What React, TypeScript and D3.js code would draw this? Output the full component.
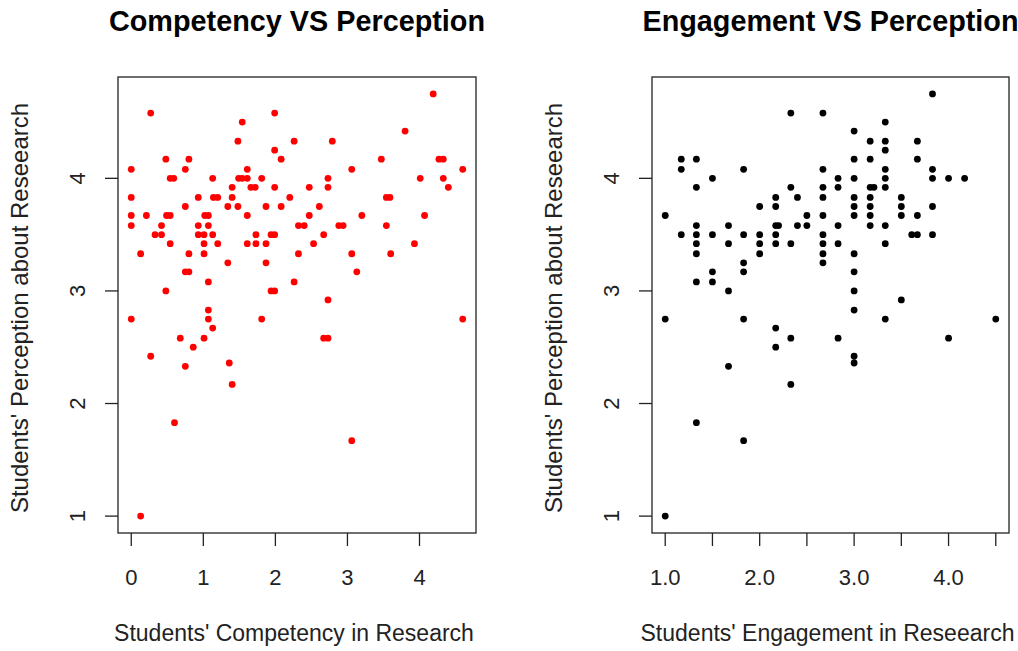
import { useEffect, useRef } from 'react'
import * as d3 from 'd3'

// Competency VS Perception (left panel) - one line per perception row
const competency = [
  4.19,
  0.27, 1.99,
  1.54,
  3.80,
  1.48, 2.26, 2.79,
  1.99,
  0.48, 0.80, 2.08, 3.47, 4.27, 4.33,
  0, 0.75, 1.61, 3.06, 4.60,
  0.54, 0.59, 1.13, 1.49, 1.54, 1.61, 1.81, 2.73, 4.01, 4.33,
  1.40, 1.66, 1.72, 1.99, 2.47, 2.73, 4.40,
  0, 0.93, 1.14, 1.20, 1.40, 2.20, 3.54, 3.59,
  0.75, 1.34, 1.48, 1.87, 2.08, 2.61,
  0, 0.21, 0.49, 0.54, 1.02, 1.07, 1.61, 2.47, 3.20, 4.07,
  0, 0.42, 0.93, 1.07, 2.32, 2.40, 2.88, 2.94, 3.54,
  0.33, 0.42, 0.93, 1.01, 1.13, 1.73, 1.94, 1.99, 2.67,
  0.54, 1.01, 1.20, 1.61, 1.73, 1.87, 2.53, 3.93,
  0.13, 0.80, 1.01, 2.32, 3.06, 3.60,
  1.34, 1.87,
  0.75, 0.80, 3.13,
  1.07, 2.26,
  0.48, 1.94, 1.99,
  2.73,
  1.07,
  0, 1.07, 1.81, 4.60,
  1.13,
  0.68, 1.01, 2.67, 2.73,
  0.86,
  0.27,
  1.36,
  0.75,
  1.40,
  0.60,
  3.06,
  0.13,
]
const perceptionA = [
  4.75,
  4.58, 4.58,
  4.5,
  4.42,
  4.33, 4.33, 4.33,
  4.25,
  4.17, 4.17, 4.17, 4.17, 4.17, 4.17,
  4.08, 4.08, 4.08, 4.08, 4.08,
  4, 4, 4, 4, 4, 4, 4, 4, 4, 4,
  3.92, 3.92, 3.92, 3.92, 3.92, 3.92, 3.92,
  3.83, 3.83, 3.83, 3.83, 3.83, 3.83, 3.83, 3.83,
  3.75, 3.75, 3.75, 3.75, 3.75, 3.75,
  3.67, 3.67, 3.67, 3.67, 3.67, 3.67, 3.67, 3.67, 3.67, 3.67,
  3.58, 3.58, 3.58, 3.58, 3.58, 3.58, 3.58, 3.58, 3.58,
  3.5, 3.5, 3.5, 3.5, 3.5, 3.5, 3.5, 3.5, 3.5,
  3.42, 3.42, 3.42, 3.42, 3.42, 3.42, 3.42, 3.42,
  3.33, 3.33, 3.33, 3.33, 3.33, 3.33,
  3.25, 3.25,
  3.17, 3.17, 3.17,
  3.08, 3.08,
  3, 3, 3,
  2.92,
  2.83,
  2.75, 2.75, 2.75, 2.75,
  2.67,
  2.58, 2.58, 2.58, 2.58,
  2.5,
  2.42,
  2.36,
  2.33,
  2.17,
  1.83,
  1.67,
  1,
]

// Engagement VS Perception (right panel)
const engagement = [
  3.83,
  2.33, 2.67,
  3.33,
  3.0,
  3.17, 3.33, 3.67,
  3.33,
  1.17, 1.33, 3.0, 3.17, 3.67,
  1.17, 1.83, 2.67, 3.33, 3.83,
  1.5, 2.83, 3.0, 3.33, 3.83, 4.0, 4.17,
  1.33, 2.33, 2.67, 2.83, 3.17, 3.21, 3.33,
  2.17, 2.4, 2.67, 3.0, 3.17, 3.5,
  2.0, 2.17, 3.0, 3.17, 3.5, 3.83,
  1.0, 2.5, 2.67, 3.0, 3.17, 3.5, 3.67,
  1.33, 1.67, 2.17, 2.2, 2.4, 2.5, 2.83, 3.17, 3.33,
  1.17, 1.33, 1.5, 1.83, 2.0, 2.17, 2.67, 3.61, 3.67, 3.83,
  1.33, 1.67, 2.0, 2.17, 2.33, 2.67, 2.83, 3.33,
  1.33, 2.0, 2.67, 3.0,
  2.67, 1.83,
  1.5, 1.83, 3.0,
  1.33, 1.5,
  1.67, 3.0,
  3.5,
  3.0,
  1.0, 1.83, 3.33, 4.5,
  2.17,
  2.33, 2.83, 4.0,
  2.17,
  3.0,
  3.0,
  1.67,
  2.33,
  1.33,
  1.83,
  1.0,
]
const perceptionB = [
  4.75,
  4.58, 4.58,
  4.5,
  4.42,
  4.33, 4.33, 4.33,
  4.25,
  4.17, 4.17, 4.17, 4.17, 4.17,
  4.08, 4.08, 4.08, 4.08, 4.08,
  4, 4, 4, 4, 4, 4, 4,
  3.92, 3.92, 3.92, 3.92, 3.92, 3.92, 3.92,
  3.83, 3.83, 3.83, 3.83, 3.83, 3.83,
  3.75, 3.75, 3.75, 3.75, 3.75, 3.75,
  3.67, 3.67, 3.67, 3.67, 3.67, 3.67, 3.67,
  3.58, 3.58, 3.58, 3.58, 3.58, 3.58, 3.58, 3.58, 3.58,
  3.5, 3.5, 3.5, 3.5, 3.5, 3.5, 3.5, 3.5, 3.5, 3.5,
  3.42, 3.42, 3.42, 3.42, 3.42, 3.42, 3.42, 3.42,
  3.33, 3.33, 3.33, 3.33,
  3.25, 3.25,
  3.17, 3.17, 3.17,
  3.08, 3.08,
  3, 3,
  2.92,
  2.83,
  2.75, 2.75, 2.75, 2.75,
  2.67,
  2.58, 2.58, 2.58,
  2.5,
  2.42,
  2.36,
  2.33,
  2.17,
  1.83,
  1.67,
  1,
]

const yTicks = [1, 2, 3, 4]
const compTicks = [0, 1, 2, 3, 4]
const engTicks = [1, 1.5, 2, 2.5, 3, 3.5, 4, 4.5]
const engLabels = [1, 2, 3, 4]

const FONT = '"Liberation Sans", Arial, sans-serif'
const INK = '#222'

// R style range: data extent padded 4% each side
const padded = (vals) => {
  const [lo, hi] = d3.extent(vals)
  const p = (hi - lo) * 0.04
  return [lo - p, hi + p]
}

function drawPanel(svg, opt) {
  const { left, right, top, bottom, xs, ys, color, title, xTitle, yTitle, xTicks, xLabels, xFmt } = opt
  const x = d3.scaleLinear().domain(padded(xs)).range([left, right])
  const y = d3.scaleLinear().domain(padded(ys)).range([bottom, top])
  const g = svg.append('g')
  const cx = (left + right) / 2

  g.append('text')
    .text(title)
    .attr('x', cx).attr('y', 31)
    .attr('text-anchor', 'middle')
    .attr('font-family', FONT).attr('font-weight', 'bold').attr('font-size', 28.8)
    .attr('fill', '#000')

  g.append('rect')
    .attr('x', left).attr('y', top)
    .attr('width', right - left).attr('height', bottom - top)
    .attr('fill', 'none').attr('stroke', INK).attr('stroke-width', 1.3)

  // x axis
  xTicks.forEach(t => {
    g.append('line')
      .attr('x1', x(t)).attr('x2', x(t))
      .attr('y1', bottom).attr('y2', bottom + 13)
      .attr('stroke', INK).attr('stroke-width', 1.3)
  })
  xLabels.forEach(t => {
    g.append('text')
      .text(xFmt(t))
      .attr('x', x(t)).attr('y', 585)
      .attr('text-anchor', 'middle')
      .attr('font-family', FONT).attr('font-size', 22)
      .attr('fill', INK)
  })
  g.append('text')
    .text(xTitle)
    .attr('x', cx - 3).attr('y', 641)
    .attr('text-anchor', 'middle')
    .attr('font-family', FONT).attr('font-size', 23)
    .attr('fill', INK)

  // y axis
  yTicks.forEach(t => {
    g.append('line')
      .attr('x1', left - 13).attr('x2', left)
      .attr('y1', y(t)).attr('y2', y(t))
      .attr('stroke', INK).attr('stroke-width', 1.3)
    g.append('text')
      .text(t)
      .attr('transform', `translate(${left - 33},${y(t)}) rotate(-90)`)
      .attr('text-anchor', 'middle')
      .attr('font-family', FONT).attr('font-size', 22)
      .attr('fill', INK)
  })
  g.append('text')
    .text(yTitle)
    .attr('transform', `translate(${left - 90},${(top + bottom) / 2 + 3}) rotate(-90)`)
    .attr('text-anchor', 'middle')
    .attr('font-family', FONT).attr('font-size', 24)
    .attr('fill', INK)

  // points
  g.selectAll('circle.pt')
    .data(xs.map((v, i) => [v, ys[i]]))
    .enter()
    .append('circle')
    .attr('class', 'pt')
    .attr('cx', d => x(d[0]))
    .attr('cy', d => y(d[1]))
    .attr('r', 3.4)
    .attr('fill', color)
}

export default function App() {
  const svgRef = useRef()

  useEffect(() => {
    const svg = d3.select(svgRef.current)
    svg.selectAll('*').remove()
    svg.append('rect').attr('width', 1018).attr('height', 651).attr('fill', '#fff')

    drawPanel(svg, {
      left: 118, right: 476, top: 77, bottom: 533,
      xs: competency, ys: perceptionA, color: '#ff0000',
      title: 'Competency VS Perception',
      xTitle: "Students' Competency in Research",
      yTitle: "Students' Perception about Reseearch",
      xTicks: compTicks, xLabels: compTicks, xFmt: d3.format('d'),
    })
    drawPanel(svg, {
      left: 652, right: 1009, top: 77, bottom: 533,
      xs: engagement, ys: perceptionB, color: '#000',
      title: 'Engagement VS Perception',
      xTitle: "Students' Engagement in Reseearch",
      yTitle: "Students' Perception about Reseearch",
      xTicks: engTicks, xLabels: engLabels, xFmt: d3.format('.1f'),
    })
  }, [])

  return (
    <svg ref={svgRef} width={1018} height={651}
      style={{ position: 'absolute', left: 0, top: 0 }} />
  )
}
